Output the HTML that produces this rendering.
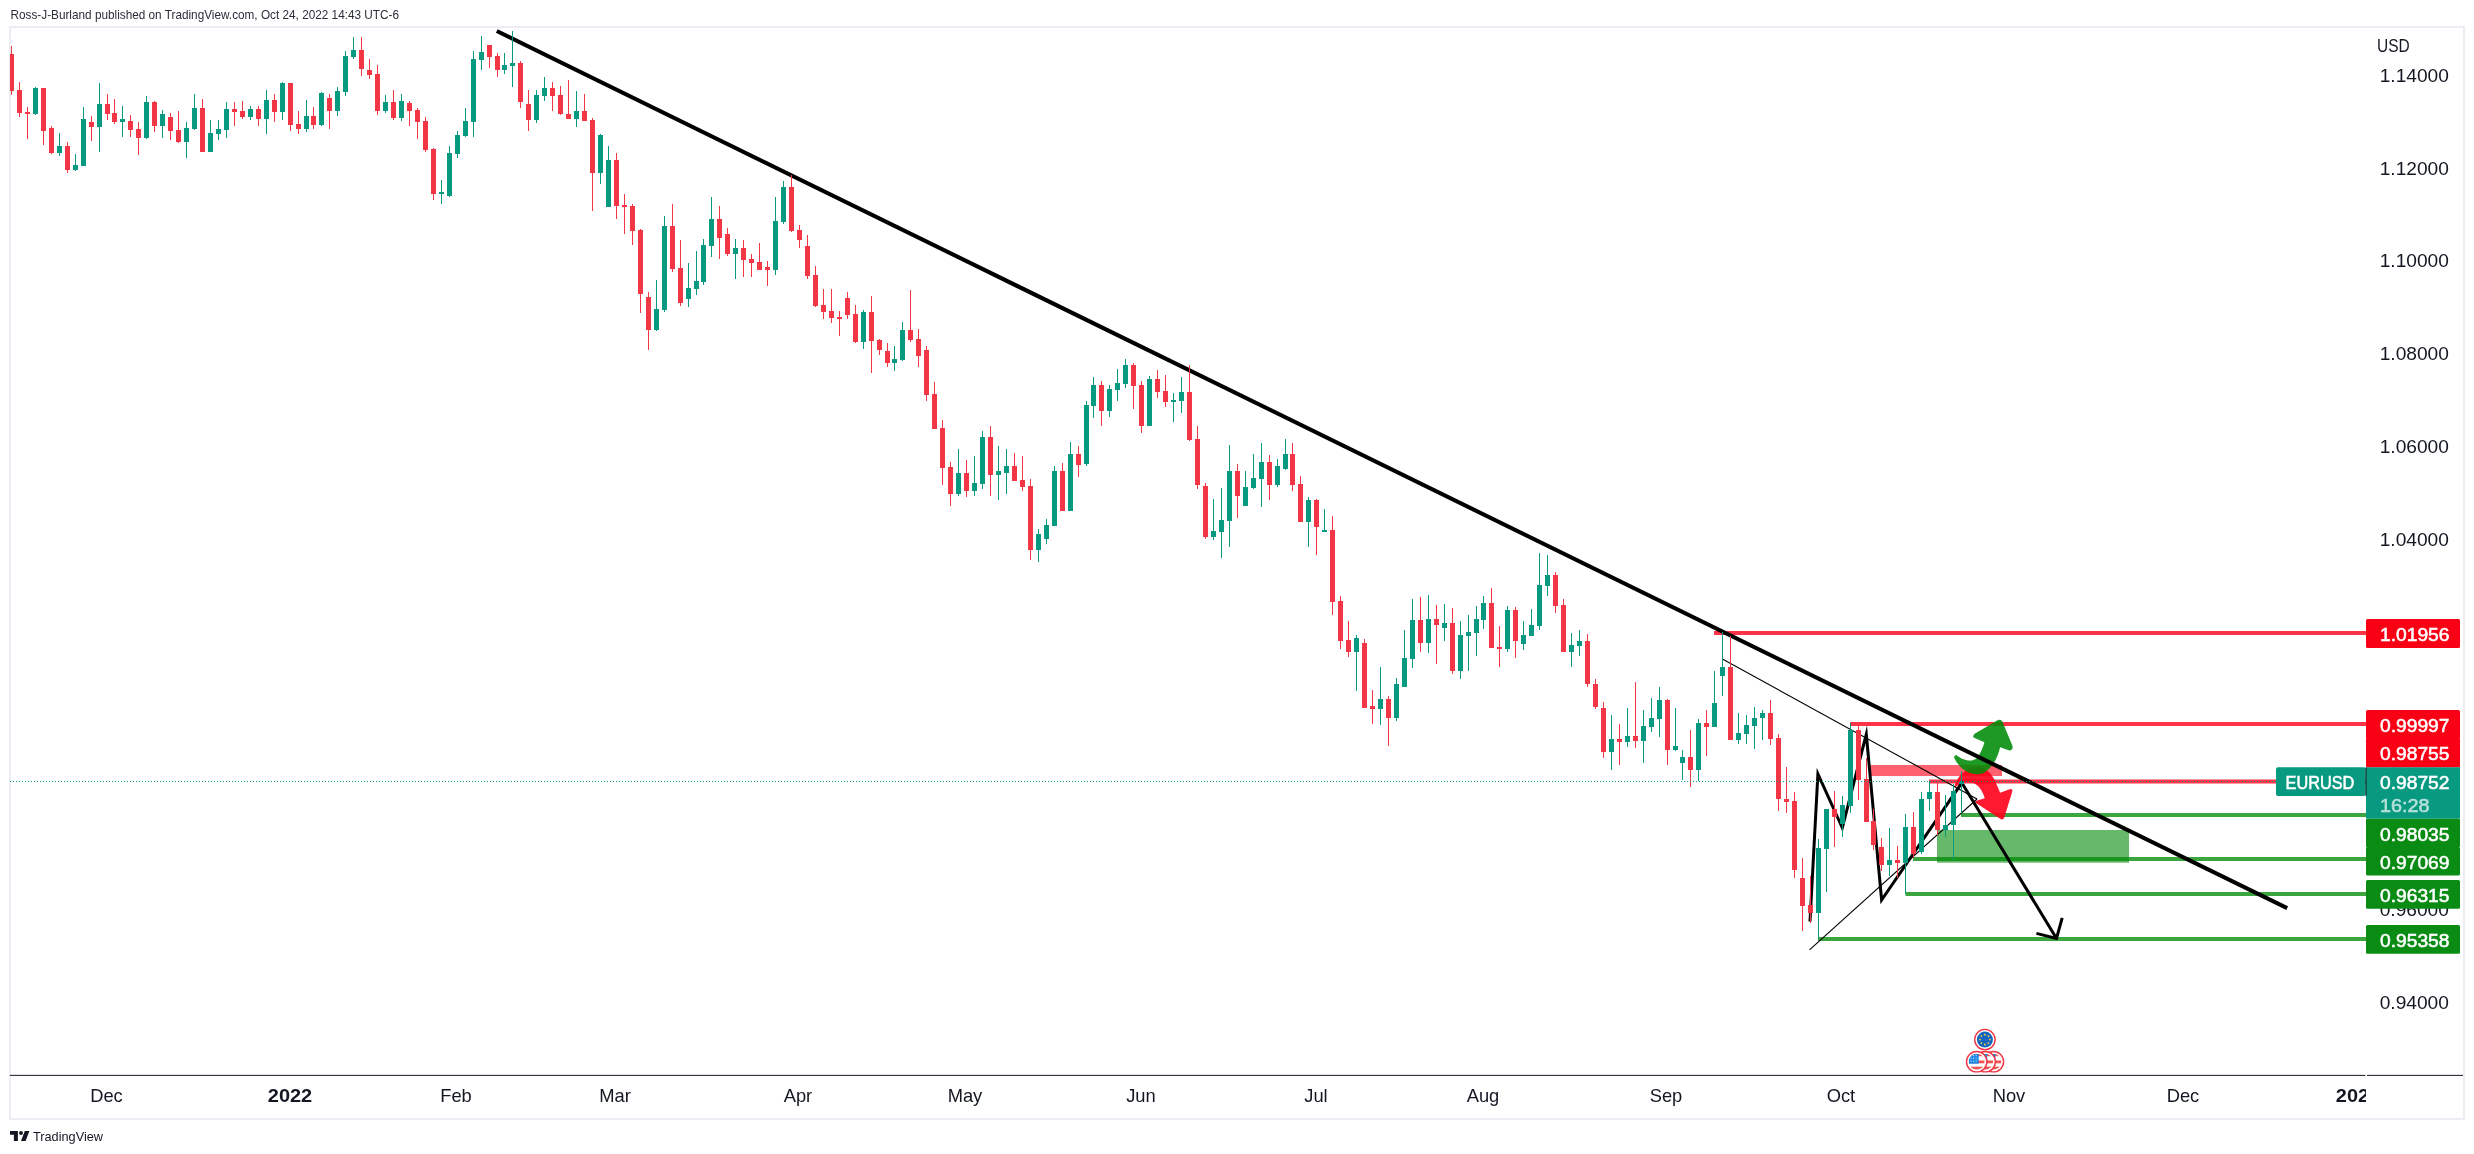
<!DOCTYPE html>
<html lang="en"><head><meta charset="utf-8"><title>EURUSD chart</title>
<style>html,body{margin:0;padding:0;background:#fff}body{width:2474px;height:1154px;overflow:hidden;position:relative}
svg{position:absolute;left:0;top:0;display:block;will-change:transform}
text{font-family:"Liberation Sans",sans-serif}
.ax{font-size:19px;fill:#131722}.axb{font-size:19px;font-weight:bold;fill:#131722}
.lb{font-size:19px;fill:#fff;stroke:#fff;stroke-width:0.55px}
</style></head><body>
<svg width="2474" height="1154" viewBox="0 0 2474 1154">
<defs><clipPath id="pane"><rect x="10" y="27" width="2356" height="1048"/></clipPath>
<clipPath id="taxis"><rect x="10" y="1076" width="2356" height="42"/></clipPath></defs>
<text x="10.5" y="19" font-size="12.2" fill="#2a2e39" textLength="388.5" lengthAdjust="spacingAndGlyphs">Ross-J-Burland published on TradingView.com, Oct 24, 2022 14:43 UTC-6</text>
<rect x="10" y="27" width="2454" height="1092" fill="none" stroke="#ebedf3" stroke-width="2"/>
<g clip-path="url(#pane)">
<rect x="1714" y="631" width="652" height="4" fill="rgba(255,0,25,0.8)"/>
<rect x="1850" y="722" width="516" height="4" fill="rgba(255,0,25,0.8)"/>
<rect x="1929" y="779.5" width="437" height="4" fill="rgba(255,0,25,0.8)"/>
<rect x="1870.5" y="765" width="131.5" height="11" fill="rgba(255,0,25,0.62)"/>
<rect x="1937" y="830" width="192" height="32.7" fill="rgba(0,139,7,0.6)"/>
<rect x="1961" y="813" width="405" height="4" fill="rgba(0,139,7,0.77)"/>
<rect x="1913" y="857" width="453" height="4" fill="rgba(0,139,7,0.77)"/>
<rect x="1905.5" y="892" width="460.5" height="4" fill="rgba(0,139,7,0.77)"/>
<rect x="1818" y="937" width="548" height="4" fill="rgba(0,139,7,0.77)"/>
<path d="M1954.4,786.6 C1956.5,779 1962,770.5 1972,767.8 C1982,765.5 1990,771 1994,779 C1996.5,784 1998.5,788.5 2000.1,792.7 L2009.5,789.2 Q2013,788.3 2012.3,791.5 L2004.3,817.5 Q2003,820.5 2000.5,819 L1976.3,803.2 Q1973.8,801.5 1976.5,800.8 L1984.8,798.2 C1982.5,791 1978.5,784.5 1972,782.6 C1966,781 1960,782.5 1956.3,786.6 Q1955,787.6 1954.4,786.6 Z" fill="rgba(255,0,25,0.9)"/>
<g transform="translate(1940,705) scale(0.108307)"><path d="M520,147 Q550,125 575,150 L668,375 Q680,415 640,420 L555,390 C535,470 500,565 415,620 C335,668 195,625 132,490 Q125,468 150,462 C200,505 295,540 345,485 C375,445 395,400 410,345 L325,308 Q290,295 320,265 Z" fill="rgba(0,139,7,0.88)"/></g>
<line x1="1722.4" y1="659" x2="1977" y2="799" stroke="#000" stroke-width="1.1"/>
<line x1="1809.5" y1="949.8" x2="1977" y2="799" stroke="#000" stroke-width="1.1"/>
<polyline points="1810,921.5 1817.9,774 1842.3,827.8 1866.3,734.3 1881.6,900 1961.8,782.8 2056.5,938.5" fill="none" stroke="#000" stroke-width="3.0" stroke-linejoin="miter" stroke-miterlimit="10"/>
<polyline points="2036.4,933.4 2056.5,938.5 2062.2,917.8" fill="none" stroke="#000" stroke-width="3.0" stroke-linejoin="miter"/>
<line x1="496.8" y1="31.0" x2="2287.2" y2="908.2" stroke="#000" stroke-width="4.1"/>
</g>
<g clip-path="url(#pane)" shape-rendering="crispEdges">
<rect x="11" y="46" width="1" height="49" fill="#f23645"/>
<rect x="9" y="54" width="5" height="37" fill="#f23645"/>
<rect x="19" y="82" width="1" height="35" fill="#f23645"/>
<rect x="17" y="90" width="5" height="23" fill="#f23645"/>
<rect x="27" y="107" width="1" height="32" fill="#f23645"/>
<rect x="25" y="112" width="5" height="2" fill="#f23645"/>
<rect x="35" y="87" width="1" height="28" fill="#089981"/>
<rect x="33" y="88" width="5" height="26" fill="#089981"/>
<rect x="43" y="88" width="1" height="57" fill="#f23645"/>
<rect x="41" y="88" width="5" height="43" fill="#f23645"/>
<rect x="51" y="126" width="1" height="28" fill="#f23645"/>
<rect x="49" y="128" width="5" height="25" fill="#f23645"/>
<rect x="59" y="133" width="1" height="23" fill="#089981"/>
<rect x="57" y="146" width="5" height="7" fill="#089981"/>
<rect x="67" y="142" width="1" height="31" fill="#f23645"/>
<rect x="65" y="146" width="5" height="24" fill="#f23645"/>
<rect x="75" y="154" width="1" height="17" fill="#089981"/>
<rect x="73" y="165" width="5" height="5" fill="#089981"/>
<rect x="83" y="107" width="1" height="59" fill="#089981"/>
<rect x="81" y="119" width="5" height="47" fill="#089981"/>
<rect x="91" y="116" width="1" height="25" fill="#f23645"/>
<rect x="89" y="122" width="5" height="5" fill="#f23645"/>
<rect x="99" y="83" width="1" height="69" fill="#089981"/>
<rect x="97" y="104" width="5" height="23" fill="#089981"/>
<rect x="107" y="94" width="1" height="26" fill="#f23645"/>
<rect x="105" y="104" width="5" height="10" fill="#f23645"/>
<rect x="114" y="99" width="1" height="25" fill="#f23645"/>
<rect x="112" y="113" width="5" height="9" fill="#f23645"/>
<rect x="122" y="106" width="1" height="31" fill="#089981"/>
<rect x="120" y="119" width="5" height="3" fill="#089981"/>
<rect x="130" y="115" width="1" height="22" fill="#f23645"/>
<rect x="128" y="121" width="5" height="9" fill="#f23645"/>
<rect x="138" y="122" width="1" height="33" fill="#f23645"/>
<rect x="136" y="129" width="5" height="9" fill="#f23645"/>
<rect x="146" y="96" width="1" height="43" fill="#089981"/>
<rect x="144" y="102" width="5" height="36" fill="#089981"/>
<rect x="154" y="101" width="1" height="31" fill="#f23645"/>
<rect x="152" y="102" width="5" height="24" fill="#f23645"/>
<rect x="162" y="110" width="1" height="28" fill="#089981"/>
<rect x="160" y="114" width="5" height="12" fill="#089981"/>
<rect x="170" y="113" width="1" height="27" fill="#f23645"/>
<rect x="168" y="117" width="5" height="14" fill="#f23645"/>
<rect x="178" y="111" width="1" height="32" fill="#f23645"/>
<rect x="176" y="130" width="5" height="12" fill="#f23645"/>
<rect x="186" y="122" width="1" height="36" fill="#089981"/>
<rect x="184" y="128" width="5" height="14" fill="#089981"/>
<rect x="194" y="94" width="1" height="36" fill="#089981"/>
<rect x="192" y="108" width="5" height="21" fill="#089981"/>
<rect x="202" y="99" width="1" height="53" fill="#f23645"/>
<rect x="200" y="108" width="5" height="44" fill="#f23645"/>
<rect x="210" y="120" width="1" height="32" fill="#089981"/>
<rect x="208" y="133" width="5" height="19" fill="#089981"/>
<rect x="218" y="120" width="1" height="20" fill="#089981"/>
<rect x="216" y="129" width="5" height="5" fill="#089981"/>
<rect x="226" y="102" width="1" height="36" fill="#089981"/>
<rect x="224" y="109" width="5" height="21" fill="#089981"/>
<rect x="234" y="102" width="1" height="24" fill="#f23645"/>
<rect x="232" y="109" width="5" height="3" fill="#f23645"/>
<rect x="242" y="101" width="1" height="18" fill="#f23645"/>
<rect x="240" y="111" width="5" height="6" fill="#f23645"/>
<rect x="250" y="106" width="1" height="14" fill="#089981"/>
<rect x="248" y="109" width="5" height="8" fill="#089981"/>
<rect x="258" y="106" width="1" height="20" fill="#f23645"/>
<rect x="256" y="109" width="5" height="10" fill="#f23645"/>
<rect x="266" y="90" width="1" height="44" fill="#089981"/>
<rect x="264" y="100" width="5" height="19" fill="#089981"/>
<rect x="274" y="94" width="1" height="28" fill="#f23645"/>
<rect x="272" y="100" width="5" height="12" fill="#f23645"/>
<rect x="282" y="82" width="1" height="38" fill="#089981"/>
<rect x="280" y="83" width="5" height="29" fill="#089981"/>
<rect x="290" y="83" width="1" height="48" fill="#f23645"/>
<rect x="288" y="83" width="5" height="42" fill="#f23645"/>
<rect x="298" y="111" width="1" height="23" fill="#f23645"/>
<rect x="296" y="124" width="5" height="5" fill="#f23645"/>
<rect x="306" y="100" width="1" height="32" fill="#089981"/>
<rect x="304" y="116" width="5" height="13" fill="#089981"/>
<rect x="313" y="107" width="1" height="22" fill="#f23645"/>
<rect x="311" y="116" width="5" height="9" fill="#f23645"/>
<rect x="321" y="92" width="1" height="34" fill="#089981"/>
<rect x="319" y="93" width="5" height="32" fill="#089981"/>
<rect x="329" y="94" width="1" height="35" fill="#f23645"/>
<rect x="327" y="98" width="5" height="13" fill="#f23645"/>
<rect x="337" y="87" width="1" height="29" fill="#089981"/>
<rect x="335" y="91" width="5" height="20" fill="#089981"/>
<rect x="345" y="51" width="1" height="45" fill="#089981"/>
<rect x="343" y="56" width="5" height="36" fill="#089981"/>
<rect x="353" y="37" width="1" height="22" fill="#089981"/>
<rect x="351" y="50" width="5" height="7" fill="#089981"/>
<rect x="361" y="37" width="1" height="39" fill="#f23645"/>
<rect x="359" y="50" width="5" height="19" fill="#f23645"/>
<rect x="369" y="59" width="1" height="20" fill="#f23645"/>
<rect x="367" y="70" width="5" height="5" fill="#f23645"/>
<rect x="377" y="65" width="1" height="50" fill="#f23645"/>
<rect x="375" y="74" width="5" height="37" fill="#f23645"/>
<rect x="385" y="95" width="1" height="18" fill="#089981"/>
<rect x="383" y="102" width="5" height="9" fill="#089981"/>
<rect x="393" y="90" width="1" height="30" fill="#f23645"/>
<rect x="391" y="102" width="5" height="16" fill="#f23645"/>
<rect x="401" y="94" width="1" height="27" fill="#089981"/>
<rect x="399" y="101" width="5" height="17" fill="#089981"/>
<rect x="409" y="101" width="1" height="25" fill="#f23645"/>
<rect x="407" y="103" width="5" height="8" fill="#f23645"/>
<rect x="417" y="108" width="1" height="31" fill="#f23645"/>
<rect x="415" y="110" width="5" height="12" fill="#f23645"/>
<rect x="425" y="117" width="1" height="35" fill="#f23645"/>
<rect x="423" y="121" width="5" height="29" fill="#f23645"/>
<rect x="433" y="148" width="1" height="52" fill="#f23645"/>
<rect x="431" y="149" width="5" height="45" fill="#f23645"/>
<rect x="441" y="180" width="1" height="24" fill="#089981"/>
<rect x="439" y="192" width="5" height="2" fill="#089981"/>
<rect x="449" y="146" width="1" height="51" fill="#089981"/>
<rect x="447" y="153" width="5" height="43" fill="#089981"/>
<rect x="457" y="131" width="1" height="27" fill="#089981"/>
<rect x="455" y="135" width="5" height="19" fill="#089981"/>
<rect x="465" y="108" width="1" height="29" fill="#089981"/>
<rect x="463" y="121" width="5" height="15" fill="#089981"/>
<rect x="473" y="51" width="1" height="86" fill="#089981"/>
<rect x="471" y="59" width="5" height="63" fill="#089981"/>
<rect x="481" y="36" width="1" height="34" fill="#089981"/>
<rect x="479" y="52" width="5" height="8" fill="#089981"/>
<rect x="489" y="45" width="1" height="23" fill="#f23645"/>
<rect x="487" y="45" width="5" height="12" fill="#f23645"/>
<rect x="497" y="53" width="1" height="24" fill="#f23645"/>
<rect x="495" y="56" width="5" height="14" fill="#f23645"/>
<rect x="504" y="53" width="1" height="21" fill="#089981"/>
<rect x="502" y="65" width="5" height="5" fill="#089981"/>
<rect x="512" y="31" width="1" height="56" fill="#089981"/>
<rect x="510" y="63" width="5" height="3" fill="#089981"/>
<rect x="520" y="61" width="1" height="47" fill="#f23645"/>
<rect x="518" y="63" width="5" height="39" fill="#f23645"/>
<rect x="528" y="90" width="1" height="41" fill="#f23645"/>
<rect x="526" y="104" width="5" height="16" fill="#f23645"/>
<rect x="536" y="90" width="1" height="33" fill="#089981"/>
<rect x="534" y="95" width="5" height="25" fill="#089981"/>
<rect x="544" y="77" width="1" height="24" fill="#089981"/>
<rect x="542" y="88" width="5" height="8" fill="#089981"/>
<rect x="552" y="82" width="1" height="29" fill="#f23645"/>
<rect x="550" y="88" width="5" height="8" fill="#f23645"/>
<rect x="560" y="86" width="1" height="29" fill="#f23645"/>
<rect x="558" y="95" width="5" height="19" fill="#f23645"/>
<rect x="568" y="80" width="1" height="39" fill="#f23645"/>
<rect x="566" y="114" width="5" height="5" fill="#f23645"/>
<rect x="576" y="91" width="1" height="36" fill="#089981"/>
<rect x="574" y="111" width="5" height="8" fill="#089981"/>
<rect x="584" y="94" width="1" height="27" fill="#f23645"/>
<rect x="582" y="111" width="5" height="10" fill="#f23645"/>
<rect x="592" y="118" width="1" height="93" fill="#f23645"/>
<rect x="590" y="120" width="5" height="53" fill="#f23645"/>
<rect x="600" y="134" width="1" height="50" fill="#089981"/>
<rect x="598" y="135" width="5" height="38" fill="#089981"/>
<rect x="608" y="146" width="1" height="61" fill="#089981"/>
<rect x="606" y="160" width="5" height="47" fill="#089981"/>
<rect x="616" y="153" width="1" height="66" fill="#f23645"/>
<rect x="614" y="160" width="5" height="46" fill="#f23645"/>
<rect x="624" y="194" width="1" height="40" fill="#f23645"/>
<rect x="622" y="205" width="5" height="2" fill="#f23645"/>
<rect x="632" y="204" width="1" height="41" fill="#f23645"/>
<rect x="630" y="206" width="5" height="25" fill="#f23645"/>
<rect x="640" y="229" width="1" height="84" fill="#f23645"/>
<rect x="638" y="230" width="5" height="64" fill="#f23645"/>
<rect x="648" y="292" width="1" height="58" fill="#f23645"/>
<rect x="646" y="297" width="5" height="33" fill="#f23645"/>
<rect x="656" y="280" width="1" height="51" fill="#089981"/>
<rect x="654" y="309" width="5" height="21" fill="#089981"/>
<rect x="664" y="216" width="1" height="96" fill="#089981"/>
<rect x="662" y="226" width="5" height="84" fill="#089981"/>
<rect x="672" y="204" width="1" height="68" fill="#f23645"/>
<rect x="670" y="226" width="5" height="43" fill="#f23645"/>
<rect x="680" y="240" width="1" height="66" fill="#f23645"/>
<rect x="678" y="268" width="5" height="35" fill="#f23645"/>
<rect x="688" y="263" width="1" height="44" fill="#089981"/>
<rect x="686" y="288" width="5" height="11" fill="#089981"/>
<rect x="696" y="251" width="1" height="44" fill="#089981"/>
<rect x="694" y="281" width="5" height="8" fill="#089981"/>
<rect x="703" y="239" width="1" height="46" fill="#089981"/>
<rect x="701" y="245" width="5" height="37" fill="#089981"/>
<rect x="711" y="197" width="1" height="60" fill="#089981"/>
<rect x="709" y="219" width="5" height="27" fill="#089981"/>
<rect x="719" y="206" width="1" height="53" fill="#f23645"/>
<rect x="717" y="219" width="5" height="19" fill="#f23645"/>
<rect x="727" y="228" width="1" height="28" fill="#f23645"/>
<rect x="725" y="234" width="5" height="20" fill="#f23645"/>
<rect x="735" y="239" width="1" height="40" fill="#089981"/>
<rect x="733" y="248" width="5" height="6" fill="#089981"/>
<rect x="743" y="240" width="1" height="37" fill="#f23645"/>
<rect x="741" y="248" width="5" height="12" fill="#f23645"/>
<rect x="751" y="254" width="1" height="23" fill="#f23645"/>
<rect x="749" y="259" width="5" height="4" fill="#f23645"/>
<rect x="759" y="243" width="1" height="27" fill="#f23645"/>
<rect x="757" y="262" width="5" height="8" fill="#f23645"/>
<rect x="767" y="261" width="1" height="25" fill="#f23645"/>
<rect x="765" y="267" width="5" height="3" fill="#f23645"/>
<rect x="775" y="197" width="1" height="78" fill="#089981"/>
<rect x="773" y="221" width="5" height="49" fill="#089981"/>
<rect x="783" y="181" width="1" height="43" fill="#089981"/>
<rect x="781" y="187" width="5" height="35" fill="#089981"/>
<rect x="791" y="175" width="1" height="57" fill="#f23645"/>
<rect x="789" y="187" width="5" height="44" fill="#f23645"/>
<rect x="799" y="225" width="1" height="23" fill="#f23645"/>
<rect x="797" y="230" width="5" height="10" fill="#f23645"/>
<rect x="807" y="235" width="1" height="44" fill="#f23645"/>
<rect x="805" y="246" width="5" height="30" fill="#f23645"/>
<rect x="815" y="266" width="1" height="41" fill="#f23645"/>
<rect x="813" y="275" width="5" height="31" fill="#f23645"/>
<rect x="823" y="289" width="1" height="30" fill="#f23645"/>
<rect x="821" y="305" width="5" height="7" fill="#f23645"/>
<rect x="831" y="289" width="1" height="34" fill="#f23645"/>
<rect x="829" y="311" width="5" height="7" fill="#f23645"/>
<rect x="839" y="311" width="1" height="25" fill="#f23645"/>
<rect x="837" y="317" width="5" height="2" fill="#f23645"/>
<rect x="847" y="292" width="1" height="27" fill="#f23645"/>
<rect x="845" y="298" width="5" height="17" fill="#f23645"/>
<rect x="855" y="305" width="1" height="38" fill="#f23645"/>
<rect x="853" y="314" width="5" height="28" fill="#f23645"/>
<rect x="863" y="310" width="1" height="39" fill="#089981"/>
<rect x="861" y="312" width="5" height="30" fill="#089981"/>
<rect x="871" y="296" width="1" height="77" fill="#f23645"/>
<rect x="869" y="312" width="5" height="29" fill="#f23645"/>
<rect x="879" y="339" width="1" height="16" fill="#f23645"/>
<rect x="877" y="340" width="5" height="10" fill="#f23645"/>
<rect x="887" y="343" width="1" height="24" fill="#f23645"/>
<rect x="885" y="351" width="5" height="12" fill="#f23645"/>
<rect x="894" y="346" width="1" height="25" fill="#089981"/>
<rect x="892" y="359" width="5" height="4" fill="#089981"/>
<rect x="902" y="322" width="1" height="39" fill="#089981"/>
<rect x="900" y="330" width="5" height="30" fill="#089981"/>
<rect x="910" y="290" width="1" height="52" fill="#f23645"/>
<rect x="908" y="330" width="5" height="10" fill="#f23645"/>
<rect x="918" y="329" width="1" height="38" fill="#f23645"/>
<rect x="916" y="339" width="5" height="17" fill="#f23645"/>
<rect x="926" y="346" width="1" height="55" fill="#f23645"/>
<rect x="924" y="350" width="5" height="45" fill="#f23645"/>
<rect x="934" y="382" width="1" height="47" fill="#f23645"/>
<rect x="932" y="394" width="5" height="35" fill="#f23645"/>
<rect x="942" y="420" width="1" height="65" fill="#f23645"/>
<rect x="940" y="428" width="5" height="40" fill="#f23645"/>
<rect x="950" y="462" width="1" height="44" fill="#f23645"/>
<rect x="948" y="467" width="5" height="27" fill="#f23645"/>
<rect x="958" y="449" width="1" height="47" fill="#089981"/>
<rect x="956" y="473" width="5" height="21" fill="#089981"/>
<rect x="966" y="460" width="1" height="37" fill="#f23645"/>
<rect x="964" y="473" width="5" height="18" fill="#f23645"/>
<rect x="974" y="456" width="1" height="40" fill="#089981"/>
<rect x="972" y="483" width="5" height="8" fill="#089981"/>
<rect x="982" y="431" width="1" height="58" fill="#089981"/>
<rect x="980" y="437" width="5" height="47" fill="#089981"/>
<rect x="990" y="426" width="1" height="70" fill="#f23645"/>
<rect x="988" y="437" width="5" height="38" fill="#f23645"/>
<rect x="998" y="446" width="1" height="54" fill="#089981"/>
<rect x="996" y="471" width="5" height="4" fill="#089981"/>
<rect x="1006" y="449" width="1" height="45" fill="#089981"/>
<rect x="1004" y="466" width="5" height="7" fill="#089981"/>
<rect x="1014" y="453" width="1" height="28" fill="#f23645"/>
<rect x="1012" y="466" width="5" height="15" fill="#f23645"/>
<rect x="1022" y="456" width="1" height="35" fill="#f23645"/>
<rect x="1020" y="480" width="5" height="7" fill="#f23645"/>
<rect x="1030" y="479" width="1" height="81" fill="#f23645"/>
<rect x="1028" y="486" width="5" height="64" fill="#f23645"/>
<rect x="1038" y="529" width="1" height="33" fill="#089981"/>
<rect x="1036" y="534" width="5" height="16" fill="#089981"/>
<rect x="1046" y="519" width="1" height="25" fill="#089981"/>
<rect x="1044" y="525" width="5" height="14" fill="#089981"/>
<rect x="1054" y="466" width="1" height="60" fill="#089981"/>
<rect x="1052" y="471" width="5" height="55" fill="#089981"/>
<rect x="1062" y="463" width="1" height="48" fill="#f23645"/>
<rect x="1060" y="471" width="5" height="40" fill="#f23645"/>
<rect x="1070" y="442" width="1" height="69" fill="#089981"/>
<rect x="1068" y="454" width="5" height="57" fill="#089981"/>
<rect x="1078" y="446" width="1" height="31" fill="#f23645"/>
<rect x="1076" y="454" width="5" height="11" fill="#f23645"/>
<rect x="1086" y="401" width="1" height="65" fill="#089981"/>
<rect x="1084" y="405" width="5" height="59" fill="#089981"/>
<rect x="1093" y="377" width="1" height="41" fill="#089981"/>
<rect x="1091" y="385" width="5" height="21" fill="#089981"/>
<rect x="1101" y="381" width="1" height="45" fill="#f23645"/>
<rect x="1099" y="385" width="5" height="26" fill="#f23645"/>
<rect x="1109" y="385" width="1" height="32" fill="#089981"/>
<rect x="1107" y="389" width="5" height="22" fill="#089981"/>
<rect x="1117" y="369" width="1" height="32" fill="#089981"/>
<rect x="1115" y="383" width="5" height="7" fill="#089981"/>
<rect x="1125" y="359" width="1" height="29" fill="#089981"/>
<rect x="1123" y="365" width="5" height="19" fill="#089981"/>
<rect x="1133" y="363" width="1" height="46" fill="#f23645"/>
<rect x="1131" y="365" width="5" height="21" fill="#f23645"/>
<rect x="1141" y="381" width="1" height="52" fill="#f23645"/>
<rect x="1139" y="385" width="5" height="41" fill="#f23645"/>
<rect x="1149" y="376" width="1" height="50" fill="#089981"/>
<rect x="1147" y="379" width="5" height="47" fill="#089981"/>
<rect x="1157" y="370" width="1" height="28" fill="#f23645"/>
<rect x="1155" y="379" width="5" height="13" fill="#f23645"/>
<rect x="1165" y="375" width="1" height="32" fill="#f23645"/>
<rect x="1163" y="391" width="5" height="11" fill="#f23645"/>
<rect x="1173" y="393" width="1" height="29" fill="#089981"/>
<rect x="1171" y="400" width="5" height="2" fill="#089981"/>
<rect x="1181" y="377" width="1" height="36" fill="#089981"/>
<rect x="1179" y="392" width="5" height="9" fill="#089981"/>
<rect x="1189" y="365" width="1" height="76" fill="#f23645"/>
<rect x="1187" y="392" width="5" height="48" fill="#f23645"/>
<rect x="1197" y="426" width="1" height="63" fill="#f23645"/>
<rect x="1195" y="439" width="5" height="46" fill="#f23645"/>
<rect x="1205" y="483" width="1" height="56" fill="#f23645"/>
<rect x="1203" y="486" width="5" height="51" fill="#f23645"/>
<rect x="1213" y="499" width="1" height="41" fill="#089981"/>
<rect x="1211" y="531" width="5" height="6" fill="#089981"/>
<rect x="1221" y="488" width="1" height="70" fill="#089981"/>
<rect x="1219" y="520" width="5" height="12" fill="#089981"/>
<rect x="1229" y="445" width="1" height="102" fill="#089981"/>
<rect x="1227" y="471" width="5" height="50" fill="#089981"/>
<rect x="1237" y="464" width="1" height="54" fill="#f23645"/>
<rect x="1235" y="471" width="5" height="25" fill="#f23645"/>
<rect x="1245" y="471" width="1" height="35" fill="#089981"/>
<rect x="1243" y="487" width="5" height="19" fill="#089981"/>
<rect x="1253" y="454" width="1" height="35" fill="#089981"/>
<rect x="1251" y="478" width="5" height="10" fill="#089981"/>
<rect x="1261" y="443" width="1" height="64" fill="#089981"/>
<rect x="1259" y="462" width="5" height="17" fill="#089981"/>
<rect x="1269" y="455" width="1" height="45" fill="#f23645"/>
<rect x="1267" y="462" width="5" height="23" fill="#f23645"/>
<rect x="1277" y="459" width="1" height="28" fill="#089981"/>
<rect x="1275" y="466" width="5" height="19" fill="#089981"/>
<rect x="1285" y="439" width="1" height="31" fill="#089981"/>
<rect x="1283" y="454" width="5" height="15" fill="#089981"/>
<rect x="1292" y="443" width="1" height="48" fill="#f23645"/>
<rect x="1290" y="454" width="5" height="31" fill="#f23645"/>
<rect x="1300" y="476" width="1" height="46" fill="#f23645"/>
<rect x="1298" y="484" width="5" height="38" fill="#f23645"/>
<rect x="1308" y="497" width="1" height="50" fill="#089981"/>
<rect x="1306" y="500" width="5" height="22" fill="#089981"/>
<rect x="1316" y="499" width="1" height="56" fill="#f23645"/>
<rect x="1314" y="500" width="5" height="27" fill="#f23645"/>
<rect x="1324" y="509" width="1" height="23" fill="#089981"/>
<rect x="1322" y="530" width="5" height="2" fill="#089981"/>
<rect x="1332" y="516" width="1" height="99" fill="#f23645"/>
<rect x="1330" y="530" width="5" height="72" fill="#f23645"/>
<rect x="1340" y="596" width="1" height="53" fill="#f23645"/>
<rect x="1338" y="601" width="5" height="40" fill="#f23645"/>
<rect x="1348" y="621" width="1" height="36" fill="#f23645"/>
<rect x="1346" y="640" width="5" height="12" fill="#f23645"/>
<rect x="1356" y="635" width="1" height="56" fill="#089981"/>
<rect x="1354" y="638" width="5" height="14" fill="#089981"/>
<rect x="1364" y="639" width="1" height="69" fill="#f23645"/>
<rect x="1362" y="643" width="5" height="65" fill="#f23645"/>
<rect x="1372" y="690" width="1" height="34" fill="#f23645"/>
<rect x="1370" y="706" width="5" height="3" fill="#f23645"/>
<rect x="1380" y="667" width="1" height="58" fill="#089981"/>
<rect x="1378" y="699" width="5" height="10" fill="#089981"/>
<rect x="1388" y="696" width="1" height="50" fill="#f23645"/>
<rect x="1386" y="699" width="5" height="19" fill="#f23645"/>
<rect x="1396" y="678" width="1" height="43" fill="#089981"/>
<rect x="1394" y="684" width="5" height="34" fill="#089981"/>
<rect x="1404" y="630" width="1" height="57" fill="#089981"/>
<rect x="1402" y="658" width="5" height="29" fill="#089981"/>
<rect x="1412" y="599" width="1" height="69" fill="#089981"/>
<rect x="1410" y="620" width="5" height="39" fill="#089981"/>
<rect x="1420" y="597" width="1" height="55" fill="#f23645"/>
<rect x="1418" y="620" width="5" height="23" fill="#f23645"/>
<rect x="1428" y="595" width="1" height="58" fill="#089981"/>
<rect x="1426" y="619" width="5" height="24" fill="#089981"/>
<rect x="1436" y="605" width="1" height="59" fill="#f23645"/>
<rect x="1434" y="619" width="5" height="6" fill="#f23645"/>
<rect x="1444" y="604" width="1" height="37" fill="#089981"/>
<rect x="1442" y="623" width="5" height="5" fill="#089981"/>
<rect x="1452" y="608" width="1" height="66" fill="#f23645"/>
<rect x="1450" y="623" width="5" height="48" fill="#f23645"/>
<rect x="1460" y="621" width="1" height="58" fill="#089981"/>
<rect x="1458" y="635" width="5" height="36" fill="#089981"/>
<rect x="1468" y="615" width="1" height="56" fill="#089981"/>
<rect x="1466" y="632" width="5" height="4" fill="#089981"/>
<rect x="1476" y="606" width="1" height="50" fill="#089981"/>
<rect x="1474" y="619" width="5" height="14" fill="#089981"/>
<rect x="1483" y="596" width="1" height="33" fill="#089981"/>
<rect x="1481" y="603" width="5" height="17" fill="#089981"/>
<rect x="1491" y="588" width="1" height="60" fill="#f23645"/>
<rect x="1489" y="603" width="5" height="45" fill="#f23645"/>
<rect x="1499" y="626" width="1" height="41" fill="#f23645"/>
<rect x="1497" y="647" width="5" height="2" fill="#f23645"/>
<rect x="1507" y="606" width="1" height="46" fill="#089981"/>
<rect x="1505" y="610" width="5" height="39" fill="#089981"/>
<rect x="1515" y="607" width="1" height="51" fill="#f23645"/>
<rect x="1513" y="610" width="5" height="31" fill="#f23645"/>
<rect x="1523" y="621" width="1" height="29" fill="#089981"/>
<rect x="1521" y="635" width="5" height="9" fill="#089981"/>
<rect x="1531" y="609" width="1" height="27" fill="#089981"/>
<rect x="1529" y="625" width="5" height="11" fill="#089981"/>
<rect x="1539" y="553" width="1" height="77" fill="#089981"/>
<rect x="1537" y="585" width="5" height="41" fill="#089981"/>
<rect x="1547" y="555" width="1" height="41" fill="#089981"/>
<rect x="1545" y="575" width="5" height="11" fill="#089981"/>
<rect x="1555" y="572" width="1" height="41" fill="#f23645"/>
<rect x="1553" y="575" width="5" height="31" fill="#f23645"/>
<rect x="1563" y="599" width="1" height="53" fill="#f23645"/>
<rect x="1561" y="605" width="5" height="47" fill="#f23645"/>
<rect x="1571" y="633" width="1" height="34" fill="#089981"/>
<rect x="1569" y="645" width="5" height="7" fill="#089981"/>
<rect x="1579" y="630" width="1" height="26" fill="#089981"/>
<rect x="1577" y="641" width="5" height="5" fill="#089981"/>
<rect x="1587" y="634" width="1" height="53" fill="#f23645"/>
<rect x="1585" y="641" width="5" height="43" fill="#f23645"/>
<rect x="1595" y="679" width="1" height="30" fill="#f23645"/>
<rect x="1593" y="684" width="5" height="23" fill="#f23645"/>
<rect x="1603" y="702" width="1" height="56" fill="#f23645"/>
<rect x="1601" y="708" width="5" height="44" fill="#f23645"/>
<rect x="1611" y="715" width="1" height="55" fill="#089981"/>
<rect x="1609" y="739" width="5" height="13" fill="#089981"/>
<rect x="1619" y="724" width="1" height="41" fill="#f23645"/>
<rect x="1617" y="739" width="5" height="3" fill="#f23645"/>
<rect x="1627" y="708" width="1" height="39" fill="#089981"/>
<rect x="1625" y="736" width="5" height="6" fill="#089981"/>
<rect x="1635" y="682" width="1" height="66" fill="#f23645"/>
<rect x="1633" y="736" width="5" height="5" fill="#f23645"/>
<rect x="1643" y="710" width="1" height="53" fill="#089981"/>
<rect x="1641" y="726" width="5" height="15" fill="#089981"/>
<rect x="1651" y="698" width="1" height="34" fill="#089981"/>
<rect x="1649" y="718" width="5" height="9" fill="#089981"/>
<rect x="1659" y="687" width="1" height="50" fill="#089981"/>
<rect x="1657" y="700" width="5" height="19" fill="#089981"/>
<rect x="1667" y="699" width="1" height="66" fill="#f23645"/>
<rect x="1665" y="700" width="5" height="50" fill="#f23645"/>
<rect x="1675" y="708" width="1" height="43" fill="#089981"/>
<rect x="1673" y="746" width="5" height="4" fill="#089981"/>
<rect x="1682" y="750" width="1" height="30" fill="#089981"/>
<rect x="1680" y="757" width="5" height="6" fill="#089981"/>
<rect x="1690" y="730" width="1" height="57" fill="#f23645"/>
<rect x="1688" y="757" width="5" height="13" fill="#f23645"/>
<rect x="1698" y="719" width="1" height="62" fill="#089981"/>
<rect x="1696" y="723" width="5" height="47" fill="#089981"/>
<rect x="1706" y="710" width="1" height="46" fill="#f23645"/>
<rect x="1704" y="723" width="5" height="4" fill="#f23645"/>
<rect x="1714" y="671" width="1" height="56" fill="#089981"/>
<rect x="1712" y="703" width="5" height="24" fill="#089981"/>
<rect x="1722" y="632" width="1" height="64" fill="#089981"/>
<rect x="1720" y="667" width="5" height="9" fill="#089981"/>
<rect x="1730" y="636" width="1" height="104" fill="#f23645"/>
<rect x="1728" y="667" width="5" height="73" fill="#f23645"/>
<rect x="1738" y="713" width="1" height="31" fill="#089981"/>
<rect x="1736" y="733" width="5" height="7" fill="#089981"/>
<rect x="1746" y="715" width="1" height="29" fill="#089981"/>
<rect x="1744" y="725" width="5" height="9" fill="#089981"/>
<rect x="1754" y="707" width="1" height="42" fill="#089981"/>
<rect x="1752" y="718" width="5" height="8" fill="#089981"/>
<rect x="1762" y="710" width="1" height="30" fill="#089981"/>
<rect x="1760" y="713" width="5" height="5" fill="#089981"/>
<rect x="1770" y="700" width="1" height="45" fill="#f23645"/>
<rect x="1768" y="713" width="5" height="26" fill="#f23645"/>
<rect x="1778" y="734" width="1" height="77" fill="#f23645"/>
<rect x="1776" y="738" width="5" height="61" fill="#f23645"/>
<rect x="1786" y="767" width="1" height="46" fill="#f23645"/>
<rect x="1784" y="799" width="5" height="3" fill="#f23645"/>
<rect x="1794" y="792" width="1" height="86" fill="#f23645"/>
<rect x="1792" y="801" width="5" height="69" fill="#f23645"/>
<rect x="1802" y="858" width="1" height="73" fill="#f23645"/>
<rect x="1800" y="878" width="5" height="28" fill="#f23645"/>
<rect x="1810" y="876" width="1" height="47" fill="#f23645"/>
<rect x="1808" y="905" width="5" height="8" fill="#f23645"/>
<rect x="1818" y="839" width="1" height="100" fill="#089981"/>
<rect x="1816" y="848" width="5" height="65" fill="#089981"/>
<rect x="1826" y="809" width="1" height="83" fill="#089981"/>
<rect x="1824" y="809" width="5" height="40" fill="#089981"/>
<rect x="1834" y="791" width="1" height="56" fill="#f23645"/>
<rect x="1832" y="809" width="5" height="8" fill="#f23645"/>
<rect x="1842" y="796" width="1" height="41" fill="#089981"/>
<rect x="1840" y="805" width="5" height="19" fill="#089981"/>
<rect x="1850" y="723" width="1" height="90" fill="#089981"/>
<rect x="1848" y="730" width="5" height="76" fill="#089981"/>
<rect x="1858" y="725" width="1" height="75" fill="#f23645"/>
<rect x="1856" y="730" width="5" height="50" fill="#f23645"/>
<rect x="1866" y="758" width="1" height="64" fill="#f23645"/>
<rect x="1864" y="779" width="5" height="43" fill="#f23645"/>
<rect x="1873" y="809" width="1" height="41" fill="#f23645"/>
<rect x="1871" y="821" width="5" height="24" fill="#f23645"/>
<rect x="1881" y="838" width="1" height="33" fill="#f23645"/>
<rect x="1879" y="847" width="5" height="18" fill="#f23645"/>
<rect x="1889" y="828" width="1" height="48" fill="#089981"/>
<rect x="1887" y="860" width="5" height="5" fill="#089981"/>
<rect x="1897" y="846" width="1" height="32" fill="#f23645"/>
<rect x="1895" y="860" width="5" height="3" fill="#f23645"/>
<rect x="1905" y="814" width="1" height="80" fill="#089981"/>
<rect x="1903" y="827" width="5" height="36" fill="#089981"/>
<rect x="1913" y="812" width="1" height="46" fill="#f23645"/>
<rect x="1911" y="827" width="5" height="27" fill="#f23645"/>
<rect x="1921" y="792" width="1" height="62" fill="#089981"/>
<rect x="1919" y="799" width="5" height="53" fill="#089981"/>
<rect x="1929" y="781" width="1" height="30" fill="#089981"/>
<rect x="1927" y="792" width="5" height="7" fill="#089981"/>
<rect x="1937" y="782" width="1" height="53" fill="#f23645"/>
<rect x="1935" y="792" width="5" height="38" fill="#f23645"/>
<rect x="1945" y="795" width="1" height="42" fill="#089981"/>
<rect x="1943" y="825" width="5" height="5" fill="#089981"/>
<rect x="1953" y="784" width="1" height="76" fill="#089981"/>
<rect x="1951" y="791" width="5" height="34" fill="#089981"/>
<rect x="1961" y="771" width="1" height="42" fill="#089981"/>
<rect x="1959" y="782" width="5" height="2" fill="#089981"/>
</g>
<g clip-path="url(#pane)">
<line x1="10" y1="781.5" x2="2366" y2="781.5" stroke="#089981" stroke-width="1" stroke-dasharray="1 2" shape-rendering="crispEdges"/>
</g>
<rect x="10" y="1074.85" width="2355.5" height="1.1" fill="#2a2e39"/><rect x="2367" y="1074.85" width="96" height="1.1" fill="#2a2e39"/>
<g clip-path="url(#taxis)">
<text class="ax" x="90.2" y="1102" textLength="32.6" lengthAdjust="spacingAndGlyphs">Dec</text>
<text class="axb" x="267.8" y="1102" textLength="44.4" lengthAdjust="spacingAndGlyphs">2022</text>
<text class="ax" x="440.2" y="1102" textLength="31.6" lengthAdjust="spacingAndGlyphs">Feb</text>
<text class="ax" x="599.2" y="1102" textLength="31.6" lengthAdjust="spacingAndGlyphs">Mar</text>
<text class="ax" x="783.7" y="1102" textLength="28.5" lengthAdjust="spacingAndGlyphs">Apr</text>
<text class="ax" x="947.7" y="1102" textLength="34.6" lengthAdjust="spacingAndGlyphs">May</text>
<text class="ax" x="1126.2" y="1102" textLength="29.6" lengthAdjust="spacingAndGlyphs">Jun</text>
<text class="ax" x="1304.3" y="1102" textLength="23.4" lengthAdjust="spacingAndGlyphs">Jul</text>
<text class="ax" x="1466.7" y="1102" textLength="32.6" lengthAdjust="spacingAndGlyphs">Aug</text>
<text class="ax" x="1649.7" y="1102" textLength="32.6" lengthAdjust="spacingAndGlyphs">Sep</text>
<text class="ax" x="1826.7" y="1102" textLength="28.5" lengthAdjust="spacingAndGlyphs">Oct</text>
<text class="ax" x="1992.7" y="1102" textLength="32.6" lengthAdjust="spacingAndGlyphs">Nov</text>
<text class="ax" x="2166.7" y="1102" textLength="32.6" lengthAdjust="spacingAndGlyphs">Dec</text>
<text class="axb" x="2335.8" y="1102" textLength="44.4" lengthAdjust="spacingAndGlyphs">2023</text>
</g>
<text class="ax" x="2377" y="51.5" textLength="32.7" lengthAdjust="spacingAndGlyphs">USD</text>
<text class="ax" x="2379.7" y="82.0" textLength="69.2" lengthAdjust="spacingAndGlyphs">1.14000</text>
<text class="ax" x="2379.7" y="174.7" textLength="69.2" lengthAdjust="spacingAndGlyphs">1.12000</text>
<text class="ax" x="2379.7" y="267.4" textLength="69.2" lengthAdjust="spacingAndGlyphs">1.10000</text>
<text class="ax" x="2379.7" y="360.1" textLength="69.2" lengthAdjust="spacingAndGlyphs">1.08000</text>
<text class="ax" x="2379.7" y="452.8" textLength="69.2" lengthAdjust="spacingAndGlyphs">1.06000</text>
<text class="ax" x="2379.7" y="545.5" textLength="69.2" lengthAdjust="spacingAndGlyphs">1.04000</text>
<text class="ax" x="2379.7" y="916.3" textLength="69.2" lengthAdjust="spacingAndGlyphs">0.96000</text>
<text class="ax" x="2379.7" y="1009.0" textLength="69.2" lengthAdjust="spacingAndGlyphs">0.94000</text>
<g><circle cx="1993.4" cy="1061.7" r="10.2" fill="#fff" stroke="#f23645" stroke-width="1.4"/><clipPath id="u1993"><circle cx="1993.4" cy="1061.7" r="8"/></clipPath><g clip-path="url(#u1993)"><rect x="1985.4" y="1053.7" width="16" height="2.5" fill="#ef5350"/><rect x="1985.4" y="1060.5" width="16" height="2.8" fill="#ef5350"/><rect x="1985.4" y="1066.7" width="16" height="3" fill="#ef5350"/><rect x="1985.4" y="1053.7" width="10" height="10" fill="#1e88e5"/><rect x="1987.2" y="1055.1" width="1" height="1" fill="#fff" fill-opacity="0.85"/><rect x="1987.2" y="1057.8" width="1" height="1" fill="#fff" fill-opacity="0.85"/><rect x="1987.2" y="1060.5" width="1" height="1" fill="#fff" fill-opacity="0.85"/><rect x="1989.8" y="1055.1" width="1" height="1" fill="#fff" fill-opacity="0.85"/><rect x="1989.8" y="1057.8" width="1" height="1" fill="#fff" fill-opacity="0.85"/><rect x="1989.8" y="1060.5" width="1" height="1" fill="#fff" fill-opacity="0.85"/><rect x="1992.4" y="1055.1" width="1" height="1" fill="#fff" fill-opacity="0.85"/><rect x="1992.4" y="1057.8" width="1" height="1" fill="#fff" fill-opacity="0.85"/><rect x="1992.4" y="1060.5" width="1" height="1" fill="#fff" fill-opacity="0.85"/></g></g>
<g><circle cx="1985.2" cy="1061.7" r="10.2" fill="#fff" stroke="#f23645" stroke-width="1.4"/><clipPath id="u1985"><circle cx="1985.2" cy="1061.7" r="8"/></clipPath><g clip-path="url(#u1985)"><rect x="1977.2" y="1053.7" width="16" height="2.5" fill="#ef5350"/><rect x="1977.2" y="1060.5" width="16" height="2.8" fill="#ef5350"/><rect x="1977.2" y="1066.7" width="16" height="3" fill="#ef5350"/><rect x="1977.2" y="1053.7" width="10" height="10" fill="#1e88e5"/><rect x="1979.0" y="1055.1" width="1" height="1" fill="#fff" fill-opacity="0.85"/><rect x="1979.0" y="1057.8" width="1" height="1" fill="#fff" fill-opacity="0.85"/><rect x="1979.0" y="1060.5" width="1" height="1" fill="#fff" fill-opacity="0.85"/><rect x="1981.6" y="1055.1" width="1" height="1" fill="#fff" fill-opacity="0.85"/><rect x="1981.6" y="1057.8" width="1" height="1" fill="#fff" fill-opacity="0.85"/><rect x="1981.6" y="1060.5" width="1" height="1" fill="#fff" fill-opacity="0.85"/><rect x="1984.2" y="1055.1" width="1" height="1" fill="#fff" fill-opacity="0.85"/><rect x="1984.2" y="1057.8" width="1" height="1" fill="#fff" fill-opacity="0.85"/><rect x="1984.2" y="1060.5" width="1" height="1" fill="#fff" fill-opacity="0.85"/></g></g>
<g><circle cx="1976.7" cy="1061.7" r="10.2" fill="#fff" stroke="#f23645" stroke-width="1.4"/><clipPath id="u1976"><circle cx="1976.7" cy="1061.7" r="8"/></clipPath><g clip-path="url(#u1976)"><rect x="1968.7" y="1053.7" width="16" height="2.5" fill="#ef5350"/><rect x="1968.7" y="1060.5" width="16" height="2.8" fill="#ef5350"/><rect x="1968.7" y="1066.7" width="16" height="3" fill="#ef5350"/><rect x="1968.7" y="1053.7" width="10" height="10" fill="#1e88e5"/><rect x="1970.5" y="1055.1" width="1" height="1" fill="#fff" fill-opacity="0.85"/><rect x="1970.5" y="1057.8" width="1" height="1" fill="#fff" fill-opacity="0.85"/><rect x="1970.5" y="1060.5" width="1" height="1" fill="#fff" fill-opacity="0.85"/><rect x="1973.1" y="1055.1" width="1" height="1" fill="#fff" fill-opacity="0.85"/><rect x="1973.1" y="1057.8" width="1" height="1" fill="#fff" fill-opacity="0.85"/><rect x="1973.1" y="1060.5" width="1" height="1" fill="#fff" fill-opacity="0.85"/><rect x="1975.7" y="1055.1" width="1" height="1" fill="#fff" fill-opacity="0.85"/><rect x="1975.7" y="1057.8" width="1" height="1" fill="#fff" fill-opacity="0.85"/><rect x="1975.7" y="1060.5" width="1" height="1" fill="#fff" fill-opacity="0.85"/></g></g>
<circle cx="1984.9" cy="1039.6" r="10.2" fill="#fff" stroke="#f23645" stroke-width="1.4"/><circle cx="1984.9" cy="1039.6" r="8" fill="#1565c0"/>
<circle cx="1989.8" cy="1039.6" r="0.9" fill="#fdd835"/>
<circle cx="1988.4" cy="1043.1" r="0.9" fill="#fdd835"/>
<circle cx="1984.9" cy="1044.5" r="0.9" fill="#fdd835"/>
<circle cx="1981.4" cy="1043.1" r="0.9" fill="#fdd835"/>
<circle cx="1980.0" cy="1039.6" r="0.9" fill="#fdd835"/>
<circle cx="1981.4" cy="1036.1" r="0.9" fill="#fdd835"/>
<circle cx="1984.9" cy="1034.7" r="0.9" fill="#fdd835"/>
<circle cx="1988.4" cy="1036.1" r="0.9" fill="#fdd835"/>
<rect x="2366" y="619" width="94" height="29" rx="1.5" fill="#fa0015"/>
<text class="lb" x="2380" y="641.0" textLength="69.5" lengthAdjust="spacingAndGlyphs">1.01956</text>
<rect x="2366" y="710" width="94" height="29" rx="1.5" fill="#fa0015"/>
<text class="lb" x="2380" y="732.0" textLength="69.5" lengthAdjust="spacingAndGlyphs">0.99997</text>
<rect x="2366" y="738" width="94" height="29.5" rx="1.5" fill="#fa0015"/>
<text class="lb" x="2380" y="760.2" textLength="69.5" lengthAdjust="spacingAndGlyphs">0.98755</text>
<rect x="2366" y="818.5" width="94" height="29.0" rx="1.5" fill="#0a8c14"/>
<text class="lb" x="2380" y="840.5" textLength="69.5" lengthAdjust="spacingAndGlyphs">0.98035</text>
<rect x="2366" y="847" width="94" height="28.600000000000023" rx="1.5" fill="#0a8c14"/>
<text class="lb" x="2380" y="868.8" textLength="69.5" lengthAdjust="spacingAndGlyphs">0.97069</text>
<rect x="2366" y="880" width="94" height="28.700000000000045" rx="1.5" fill="#0a8c14"/>
<text class="lb" x="2380" y="901.9" textLength="69.5" lengthAdjust="spacingAndGlyphs">0.96315</text>
<rect x="2366" y="925" width="94" height="28.700000000000045" rx="1.5" fill="#0a8c14"/>
<text class="lb" x="2380" y="946.9" textLength="69.5" lengthAdjust="spacingAndGlyphs">0.95358</text>
<rect x="2366" y="767.3" width="94" height="51.3" fill="#089981"/>
<rect x="2276" y="767.3" width="89.7" height="28.6" rx="2" fill="#089981"/>
<rect x="2365.5" y="767.3" width="1" height="28.6" fill="#131722"/>
<text class="lb" x="2285.6" y="788.6" textLength="68.8" lengthAdjust="spacingAndGlyphs" style="font-size:18px">EURUSD</text>
<text class="lb" x="2380" y="788.7" textLength="69.5" lengthAdjust="spacingAndGlyphs">0.98752</text>
<text class="lb" x="2380" y="811.6" textLength="49.5" lengthAdjust="spacingAndGlyphs" opacity="0.7">16:28</text>
<g fill="#131722"><path d="M10,1131 H17.9 V1140.9 H13.9 V1134.8 H10 Z"/><circle cx="21" cy="1133" r="1.95"/><path d="M24.8,1131 H29.4 L25.6,1140.9 H21 Z"/></g>
<text x="33" y="1140.9" font-size="12.6" fill="#131722" textLength="70" lengthAdjust="spacingAndGlyphs">TradingView</text>
</svg></body></html>
